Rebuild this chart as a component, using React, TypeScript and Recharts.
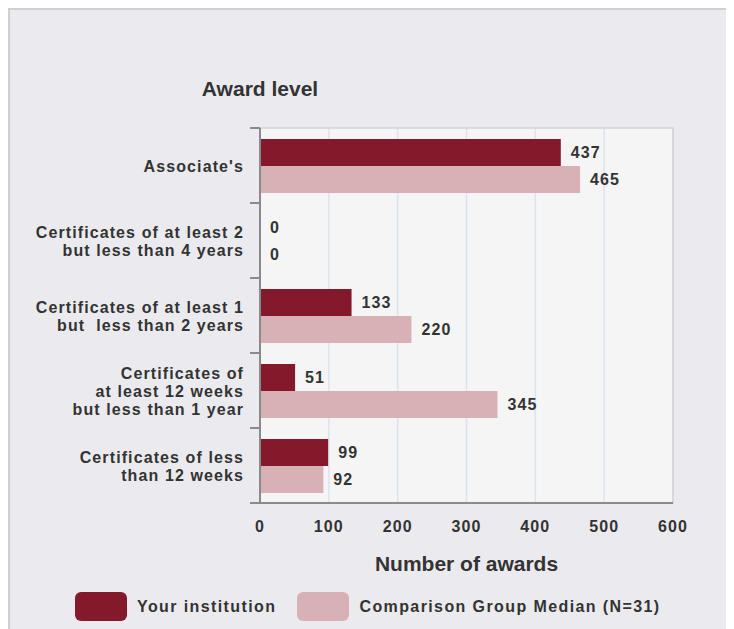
import React from 'react';
import {
  BarChart, Bar, XAxis, YAxis, CartesianGrid, Legend, LabelList, ReferenceArea,
} from 'recharts';

const CATEGORIES = [
  "Associate's",
  'Certificates of at least 2\nbut less than 4 years',
  'Certificates of at least 1\nbut  less than 2 years',
  'Certificates of\nat least 12 weeks\nbut less than 1 year',
  'Certificates of less\nthan 12 weeks',
];
const INSTITUTION = [437, 0, 133, 51, 99];
const COMPARISON = [465, 0, 220, 345, 92];
const X_TICKS = [0, 100, 200, 300, 400, 500, 600];

const SERIES_NAMES = ['Your institution', 'Comparison Group Median (N=31)'];
const DARK = '#84192c';
const LIGHT = '#d8b1b7';
const TEXT = '#333333';
const AXIS = '#8a8a8a';
const FONT = '"Liberation Sans", Arial, sans-serif';

const data = CATEGORIES.map((name, i) => ({
  name,
  institution: INSTITUTION[i],
  comparison: COMPARISON[i],
}));

const CHART_W = 719;
const CHART_H = 620;
const MARGIN = { top: 118, right: 56, bottom: 0, left: 0 };
const TICK_GAP = 16;

function CategoryTick(props: any) {
  const { x, y, payload, height, index } = props;
  const lines = String(payload.value).split('\n');
  const band = (height || 375) / CATEGORIES.length;
  const axisX = x + TICK_GAP;
  return (
    <g>
      <line x1={axisX - 10} x2={axisX} y1={y - band / 2} y2={y - band / 2} stroke={AXIS} strokeWidth={2} />
      {index === CATEGORIES.length - 1 && (
        <line x1={axisX - 10} x2={axisX} y1={y + band / 2} y2={y + band / 2} stroke={AXIS} strokeWidth={2} />
      )}
      <text
        x={x}
        y={y}
        textAnchor="end"
        fill={TEXT}
        fontSize={16}
        fontWeight="bold"
        letterSpacing={1.1}
        style={{ whiteSpace: 'pre' }}
      >
        {lines.map((l, i) => (
          <tspan key={i} x={x} y={y + 6 + (i - (lines.length - 1) / 2) * 18}>{l}</tspan>
        ))}
      </text>
    </g>
  );
}

function AwardLevelLabel(props: any) {
  const { viewBox } = props;
  return (
    <text
      x={viewBox.x + viewBox.width}
      y={viewBox.y - 32}
      textAnchor="middle"
      fill={TEXT}
      fontSize={21}
      fontWeight="bold"
    >
      Award level
    </text>
  );
}

function LegendContent() {
  const colors = [DARK, LIGHT];
  return (
    <div style={{ display: 'flex', alignItems: 'center', height: 47, paddingLeft: 65 }}>
      {SERIES_NAMES.map((n, i) => (
        <div key={n} style={{ display: 'flex', alignItems: 'center', marginRight: 21 }}>
          <div style={{ width: 52, height: 29, borderRadius: 6, background: colors[i], marginRight: 10 }} />
          <span style={{ fontSize: 16, fontWeight: 'bold', color: TEXT, letterSpacing: 1.4 }}>{n}</span>
        </div>
      ))}
    </div>
  );
}

export default function App() {
  return (
    <div
      style={{
        width: 723,
        height: 640,
        boxSizing: 'border-box',
        border: '2px solid #d0d0d2',
        background: '#ebebef',
        fontFamily: FONT,
      }}
    >
      <BarChart
        width={CHART_W}
        height={CHART_H}
        data={data}
        layout="vertical"
        margin={MARGIN}
        barSize={27}
        barGap={0}
        style={{ fontFamily: FONT }}
      >
        <CartesianGrid fill="#f5f5f5" horizontal={false} stroke="#dce3ee" strokeWidth={1.5} />
        <ReferenceArea x1={0} x2={600} fill="none" stroke="#d3d3d3" strokeWidth={1.5} ifOverflow="visible" />
        <XAxis
          type="number"
          domain={[0, 600]}
          ticks={X_TICKS}
          height={80}
          axisLine={{ stroke: AXIS, strokeWidth: 2 }}
          tickLine={false}
          tickSize={0}
          tickMargin={18}
          tick={{ fill: TEXT, fontSize: 16, fontWeight: 'bold', letterSpacing: 1.1 } as any}
          label={{
            value: 'Number of awards',
            position: 'insideBottom',
            offset: 12,
            fill: TEXT,
            fontSize: 21,
            fontWeight: 'bold',
          } as any}
        />
        <YAxis
          type="category"
          dataKey="name"
          width={250}
          interval={0}
          axisLine={{ stroke: AXIS, strokeWidth: 2 }}
          tickLine={false}
          tickSize={0}
          tickMargin={TICK_GAP}
          tick={<CategoryTick />}
          label={{ value: 'Award level', content: <AwardLevelLabel /> } as any}
        />
        <Legend
          verticalAlign="bottom"
          align="left"
          height={47}
          wrapperStyle={{ left: 0, width: CHART_W }}
          content={<LegendContent />}
        />
        <Bar dataKey="institution" name={SERIES_NAMES[0]} fill={DARK} minPointSize={0.01} isAnimationActive={false}>
          <LabelList dataKey="institution" position="right" offset={10} fill={TEXT} fontSize={16} fontWeight="bold" letterSpacing={1.1} />
        </Bar>
        <Bar dataKey="comparison" name={SERIES_NAMES[1]} fill={LIGHT} minPointSize={0.01} isAnimationActive={false}>
          <LabelList dataKey="comparison" position="right" offset={10} fill={TEXT} fontSize={16} fontWeight="bold" letterSpacing={1.1} />
        </Bar>
      </BarChart>
    </div>
  );
}
